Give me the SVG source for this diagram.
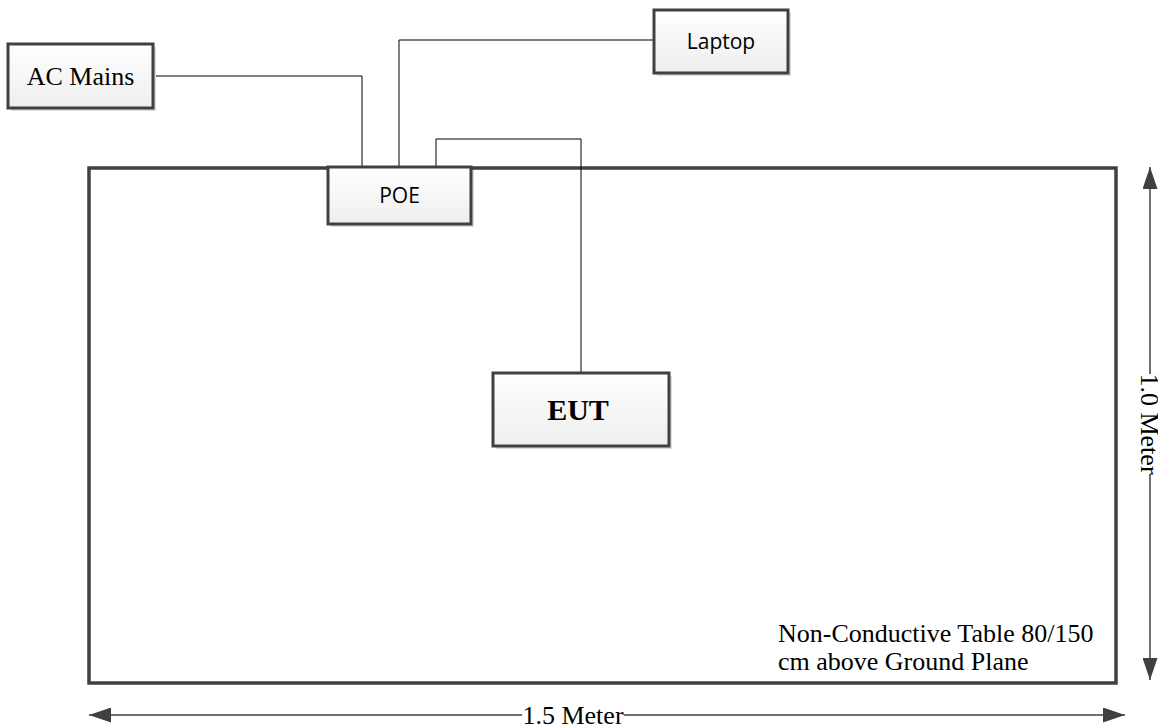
<svg xmlns="http://www.w3.org/2000/svg" width="1158" height="727" viewBox="0 0 1158 727">
<defs>
<linearGradient id="g" x1="0" y1="0" x2="0" y2="1"><stop offset="0" stop-color="#ffffff"/><stop offset="1" stop-color="#eeeeee"/></linearGradient>
<marker id="ah" viewBox="0 0 22 15" refX="22" refY="7.5" markerWidth="22" markerHeight="15" markerUnits="userSpaceOnUse" orient="auto-start-reverse"><path d="M0,0 L22,7.5 L0,15 Z" fill="#404040"/></marker>
<style>
.box{fill:url(#g);stroke:#404040;stroke-width:3}
.sh{fill:#dddddd}
.w{fill:none;stroke:#000;stroke-width:1}
.ser{font-family:"Liberation Serif",serif;fill:#000}
.san{font-family:"Open Sans","Liberation Sans",sans-serif;fill:#000}
.dim{fill:none;stroke:#404040;stroke-width:1.5}
</style>
</defs>
<rect width="1158" height="727" fill="#fff"/>
<g id="table">
<rect x="89" y="168" width="1027" height="515" fill="none" stroke="#404040" stroke-width="3.5"/>
<text class="ser" x="778" y="642" font-size="26">Non-Conductive Table 80/150</text>
<text class="ser" x="778" y="670" font-size="26">cm above Ground Plane</text>
</g>
<g id="connectors">
<polyline class="w" points="153,76 362,76 362,168"/>
<polyline class="w" points="654,40 399,40 399,168"/>
<polyline class="w" points="436,168 436,139 581,139 581,373"/>
</g>
<g id="ac-mains">
<rect class="sh" x="11" y="47" width="145" height="64"/>
<rect class="box" x="8" y="44" width="145" height="64"/>
<text class="ser" x="80.5" y="85" font-size="26" text-anchor="middle">AC Mains</text>
</g>
<g id="laptop">
<rect class="sh" x="657" y="13" width="134" height="63"/>
<rect class="box" x="654" y="10" width="134" height="63"/>
<text class="san" x="721" y="49" font-size="21" text-anchor="middle">Laptop</text>
</g>
<g id="poe">
<rect class="sh" x="331" y="170" width="143" height="57"/>
<rect class="box" x="328" y="167" width="143" height="57"/>
<text class="san" x="399.5" y="203" font-size="21" text-anchor="middle">POE</text>
</g>
<g id="eut">
<rect class="sh" x="496" y="376" width="176" height="73"/>
<rect class="box" x="493" y="373" width="176" height="73"/>
<text class="ser" x="578" y="420" font-size="30" font-weight="bold" text-anchor="middle">EUT</text>
</g>
<g id="dimensions">
<line class="dim" x1="1150" y1="167" x2="1150" y2="374" marker-start="url(#ah)"/>
<line class="dim" x1="1150" y1="474" x2="1150" y2="680" marker-end="url(#ah)"/>
<text class="ser" transform="translate(1141,424) rotate(90)" font-size="26" text-anchor="middle">1.0 Meter</text>
<line class="dim" x1="89" y1="715" x2="522" y2="715" marker-start="url(#ah)"/>
<line class="dim" x1="624" y1="715" x2="1125" y2="715" marker-end="url(#ah)"/>
<text class="ser" x="573" y="724" font-size="26" text-anchor="middle">1.5 Meter</text>
</g>
</svg>
